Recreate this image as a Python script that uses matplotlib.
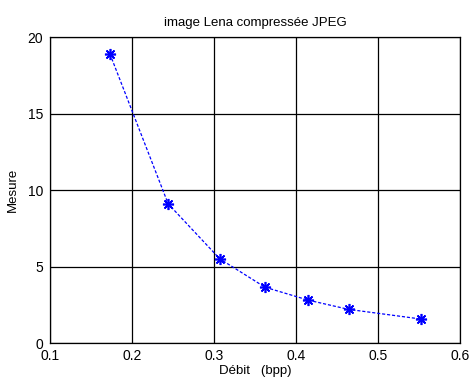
import numpy as np
import matplotlib
matplotlib.use('Agg')
import matplotlib.pyplot as plt

plt.rcParams['font.family'] = ['Liberation Sans', 'DejaVu Sans']

# Données
debit = [0.173, 0.244, 0.307, 0.362, 0.415, 0.464, 0.552]
mesure = [18.9, 9.1, 5.5, 3.65, 2.8, 2.2, 1.57]

fig = plt.figure(figsize=(4.72, 3.82), dpi=100)
ax = fig.add_axes([0.106, 0.102, 0.869, 0.801])

ax.plot(debit, mesure, '--', color='blue', lw=0.9, dashes=(2.5, 1.5),
        marker=(8, 2, 0), markersize=8, markeredgewidth=1.2)

ax.set_xlim(0.1, 0.6)
ax.set_ylim(0, 20)
ax.set_xticks(np.arange(0.1, 0.61, 0.1))
ax.set_yticks([0, 5, 10, 15, 20])
ax.set_xticklabels(['0.1', '0.2', '0.3', '0.4', '0.5', '0.6'])
ax.grid(True, color='black', linestyle='-', linewidth=0.9)
ax.tick_params(direction='in', length=0, labelsize=10)
ax.tick_params(axis='x', pad=4)
ax.tick_params(axis='y', pad=5)
for s in ax.spines.values():
    s.set_linewidth(0.9)

ax.set_title('image Lena compressée JPEG', fontsize=9.5, pad=8)
ax.set_xlabel('Débit   (bpp)', fontsize=9.5, labelpad=2)
ax.set_ylabel('Mesure', fontsize=9.5, labelpad=6)

fig.savefig('out.png', dpi=100)
